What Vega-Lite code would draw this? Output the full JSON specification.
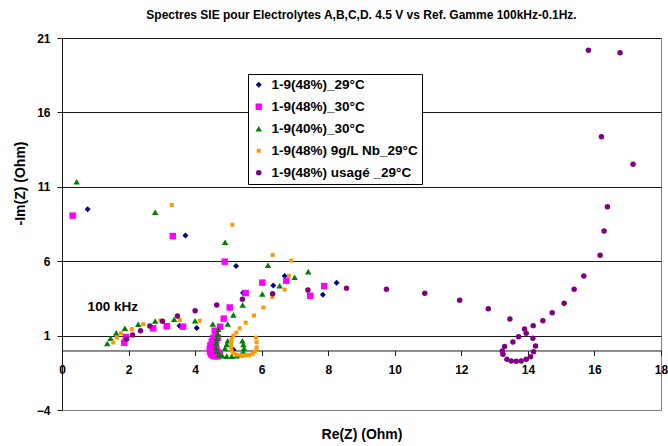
{
  "$schema": "https://vega.github.io/schema/vega-lite/v6.json",
  "width": 599,
  "height": 372,
  "autosize": "none",
  "padding": {"left": 62, "top": 38, "right": 7, "bottom": 36},
  "background": "white",
  "config": {
    "font": "Liberation Sans",
    "view": {"stroke": "#808080", "strokeWidth": 1}
  },
  "title": {
    "text": "Spectres SIE pour Electrolytes A,B,C,D. 4.5 V vs Ref. Gamme 100kHz-0.1Hz.",
    "fontSize": 12,
    "fontWeight": "bold",
    "color": "black",
    "anchor": "middle",
    "offset": 10
  },
  "datasets": {
    "pts": [
      {"series": "1-9(48%)_29°C", "re": 0.77, "im": 9.49},
      {"series": "1-9(48%)_29°C", "re": 3.71, "im": 7.72},
      {"series": "1-9(48%)_29°C", "re": 5.23, "im": 5.68},
      {"series": "1-9(48%)_29°C", "re": 6.69, "im": 5.01},
      {"series": "1-9(48%)_29°C", "re": 6.35, "im": 4.37},
      {"series": "1-9(48%)_29°C", "re": 8.25, "im": 4.56},
      {"series": "1-9(48%)_29°C", "re": 7.84, "im": 3.75},
      {"series": "1-9(48%)_29°C", "re": 5.44, "im": 3.88},
      {"series": "1-9(48%)_29°C", "re": 4.05, "im": 1.51},
      {"series": "1-9(48%)_29°C", "re": 3.53, "im": 1.67},
      {"series": "1-9(48%)_29°C", "re": 3.13, "im": 1.6},
      {"series": "1-9(48%)_29°C", "re": 4.55, "im": 0.7},
      {"series": "1-9(48%)_29°C", "re": 4.5, "im": 0.2},
      {"series": "1-9(48%)_29°C", "re": 4.6, "im": -0.25},
      {"series": "1-9(48%)_29°C", "re": 4.75, "im": -0.15},
      {"series": "1-9(48%)_29°C", "re": 5.15, "im": 0.05},
      {"series": "1-9(48%)_30°C", "re": 0.32, "im": 9.06},
      {"series": "1-9(48%)_30°C", "re": 3.33, "im": 7.69},
      {"series": "1-9(48%)_30°C", "re": 4.89, "im": 5.97},
      {"series": "1-9(48%)_30°C", "re": 6.02, "im": 4.56},
      {"series": "1-9(48%)_30°C", "re": 6.74, "im": 4.69},
      {"series": "1-9(48%)_30°C", "re": 5.52, "im": 3.86},
      {"series": "1-9(48%)_30°C", "re": 7.88, "im": 4.33},
      {"series": "1-9(48%)_30°C", "re": 7.46, "im": 3.68},
      {"series": "1-9(48%)_30°C", "re": 5.04, "im": 2.89},
      {"series": "1-9(48%)_30°C", "re": 4.86, "im": 2.14},
      {"series": "1-9(48%)_30°C", "re": 4.75, "im": 1.6},
      {"series": "1-9(48%)_30°C", "re": 4.59, "im": 1.33},
      {"series": "1-9(48%)_30°C", "re": 3.64, "im": 1.6},
      {"series": "1-9(48%)_30°C", "re": 3.15, "im": 1.63},
      {"series": "1-9(48%)_30°C", "re": 2.74, "im": 1.49},
      {"series": "1-9(48%)_30°C", "re": 1.92, "im": 0.9},
      {"series": "1-9(48%)_30°C", "re": 1.87, "im": 0.52},
      {"series": "1-9(48%)_30°C", "re": 4.62, "im": 1.1},
      {"series": "1-9(48%)_30°C", "re": 4.55, "im": 0.85},
      {"series": "1-9(48%)_30°C", "re": 4.5, "im": 0.6},
      {"series": "1-9(48%)_30°C", "re": 4.46, "im": 0.35},
      {"series": "1-9(48%)_30°C", "re": 4.44, "im": 0.1},
      {"series": "1-9(48%)_30°C", "re": 4.45, "im": -0.1},
      {"series": "1-9(48%)_30°C", "re": 4.48, "im": -0.25},
      {"series": "1-9(48%)_30°C", "re": 4.54, "im": -0.35},
      {"series": "1-9(48%)_30°C", "re": 4.62, "im": -0.4},
      {"series": "1-9(48%)_30°C", "re": 4.69, "im": -0.38},
      {"series": "1-9(48%)_30°C", "re": 4.73, "im": -0.28},
      {"series": "1-9(48%)_30°C", "re": 4.68, "im": -0.1},
      {"series": "1-9(48%)_30°C", "re": 4.64, "im": 0.12},
      {"series": "1-9(48%)_30°C", "re": 4.62, "im": 0.38},
      {"series": "1-9(48%)_30°C", "re": 4.63, "im": 0.62},
      {"series": "1-9(48%)_30°C", "re": 4.68, "im": 0.86},
      {"series": "1-9(40%)_30°C", "re": 0.44, "im": 11.34},
      {"series": "1-9(40%)_30°C", "re": 2.8, "im": 9.29},
      {"series": "1-9(40%)_30°C", "re": 4.9, "im": 7.27},
      {"series": "1-9(40%)_30°C", "re": 6.19, "im": 5.73},
      {"series": "1-9(40%)_30°C", "re": 7.4, "im": 5.3},
      {"series": "1-9(40%)_30°C", "re": 6.99, "im": 4.92},
      {"series": "1-9(40%)_30°C", "re": 6.54, "im": 4.35},
      {"series": "1-9(40%)_30°C", "re": 6.02, "im": 3.8},
      {"series": "1-9(40%)_30°C", "re": 5.43, "im": 3.06},
      {"series": "1-9(40%)_30°C", "re": 5.15, "im": 2.39},
      {"series": "1-9(40%)_30°C", "re": 4.98, "im": 1.78},
      {"series": "1-9(40%)_30°C", "re": 4.7, "im": 1.42},
      {"series": "1-9(40%)_30°C", "re": 4.53, "im": 1.78},
      {"series": "1-9(40%)_30°C", "re": 4.0, "im": 2.0},
      {"series": "1-9(40%)_30°C", "re": 3.37, "im": 2.1},
      {"series": "1-9(40%)_30°C", "re": 2.8, "im": 1.98},
      {"series": "1-9(40%)_30°C", "re": 2.29, "im": 1.76},
      {"series": "1-9(40%)_30°C", "re": 1.89, "im": 1.49},
      {"series": "1-9(40%)_30°C", "re": 1.63, "im": 1.18},
      {"series": "1-9(40%)_30°C", "re": 1.46, "im": 0.82},
      {"series": "1-9(40%)_30°C", "re": 1.36, "im": 0.47},
      {"series": "1-9(40%)_30°C", "re": 4.68, "im": 1.1},
      {"series": "1-9(40%)_30°C", "re": 4.65, "im": 0.8},
      {"series": "1-9(40%)_30°C", "re": 4.63, "im": 0.5},
      {"series": "1-9(40%)_30°C", "re": 4.63, "im": 0.2},
      {"series": "1-9(40%)_30°C", "re": 4.66, "im": -0.05},
      {"series": "1-9(40%)_30°C", "re": 4.72, "im": -0.25},
      {"series": "1-9(40%)_30°C", "re": 4.82, "im": -0.35},
      {"series": "1-9(40%)_30°C", "re": 4.95, "im": -0.38},
      {"series": "1-9(40%)_30°C", "re": 5.1, "im": -0.38},
      {"series": "1-9(40%)_30°C", "re": 5.25, "im": -0.35},
      {"series": "1-9(40%)_30°C", "re": 5.38, "im": -0.28},
      {"series": "1-9(40%)_30°C", "re": 5.45, "im": -0.1},
      {"series": "1-9(40%)_30°C", "re": 5.47, "im": 0.15},
      {"series": "1-9(40%)_30°C", "re": 5.45, "im": 0.4},
      {"series": "1-9(40%)_30°C", "re": 5.42, "im": 0.65},
      {"series": "1-9(40%)_30°C", "re": 4.98, "im": 0.65},
      {"series": "1-9(40%)_30°C", "re": 4.95, "im": 0.4},
      {"series": "1-9(40%)_30°C", "re": 4.9, "im": 0.15},
      {"series": "1-9(48%) 9g/L Nb_29°C", "re": 3.3, "im": 9.78},
      {"series": "1-9(48%) 9g/L Nb_29°C", "re": 5.12, "im": 8.45},
      {"series": "1-9(48%) 9g/L Nb_29°C", "re": 6.33, "im": 6.42},
      {"series": "1-9(48%) 9g/L Nb_29°C", "re": 6.89, "im": 6.04},
      {"series": "1-9(48%) 9g/L Nb_29°C", "re": 6.82, "im": 5.02},
      {"series": "1-9(48%) 9g/L Nb_29°C", "re": 6.69, "im": 4.09},
      {"series": "1-9(48%) 9g/L Nb_29°C", "re": 6.32, "im": 3.6},
      {"series": "1-9(48%) 9g/L Nb_29°C", "re": 6.05, "im": 2.89},
      {"series": "1-9(48%) 9g/L Nb_29°C", "re": 5.77, "im": 2.35},
      {"series": "1-9(48%) 9g/L Nb_29°C", "re": 5.52, "im": 1.87},
      {"series": "1-9(48%) 9g/L Nb_29°C", "re": 5.34, "im": 1.49},
      {"series": "1-9(48%) 9g/L Nb_29°C", "re": 5.24, "im": 1.2},
      {"series": "1-9(48%) 9g/L Nb_29°C", "re": 4.14, "im": 2.0},
      {"series": "1-9(48%) 9g/L Nb_29°C", "re": 3.54, "im": 2.05},
      {"series": "1-9(48%) 9g/L Nb_29°C", "re": 2.96, "im": 2.02},
      {"series": "1-9(48%) 9g/L Nb_29°C", "re": 2.44, "im": 1.76},
      {"series": "1-9(48%) 9g/L Nb_29°C", "re": 2.1, "im": 1.44},
      {"series": "1-9(48%) 9g/L Nb_29°C", "re": 1.77, "im": 1.16},
      {"series": "1-9(48%) 9g/L Nb_29°C", "re": 1.65, "im": 0.87},
      {"series": "1-9(48%) 9g/L Nb_29°C", "re": 1.54, "im": 0.54},
      {"series": "1-9(48%) 9g/L Nb_29°C", "re": 5.15, "im": 1.0},
      {"series": "1-9(48%) 9g/L Nb_29°C", "re": 5.1, "im": 0.75},
      {"series": "1-9(48%) 9g/L Nb_29°C", "re": 5.08, "im": 0.5},
      {"series": "1-9(48%) 9g/L Nb_29°C", "re": 5.08, "im": 0.25},
      {"series": "1-9(48%) 9g/L Nb_29°C", "re": 5.1, "im": 0.0},
      {"series": "1-9(48%) 9g/L Nb_29°C", "re": 5.15, "im": -0.18},
      {"series": "1-9(48%) 9g/L Nb_29°C", "re": 5.25, "im": -0.28},
      {"series": "1-9(48%) 9g/L Nb_29°C", "re": 5.38, "im": -0.32},
      {"series": "1-9(48%) 9g/L Nb_29°C", "re": 5.5, "im": -0.33},
      {"series": "1-9(48%) 9g/L Nb_29°C", "re": 5.62, "im": -0.3},
      {"series": "1-9(48%) 9g/L Nb_29°C", "re": 5.73, "im": -0.22},
      {"series": "1-9(48%) 9g/L Nb_29°C", "re": 5.8, "im": -0.05},
      {"series": "1-9(48%) 9g/L Nb_29°C", "re": 5.85, "im": 0.2},
      {"series": "1-9(48%) 9g/L Nb_29°C", "re": 5.85, "im": 0.55},
      {"series": "1-9(48%) 9g/L Nb_29°C", "re": 5.83, "im": 0.86},
      {"series": "1-9(48%) usagé _29°C", "re": 1.94, "im": 0.77},
      {"series": "1-9(48%) usagé _29°C", "re": 2.12, "im": 1.04},
      {"series": "1-9(48%) usagé _29°C", "re": 2.36, "im": 1.32},
      {"series": "1-9(48%) usagé _29°C", "re": 2.64, "im": 1.65},
      {"series": "1-9(48%) usagé _29°C", "re": 3.02, "im": 1.96},
      {"series": "1-9(48%) usagé _29°C", "re": 3.47, "im": 2.32},
      {"series": "1-9(48%) usagé _29°C", "re": 4.0, "im": 2.67},
      {"series": "1-9(48%) usagé _29°C", "re": 4.65, "im": 3.06},
      {"series": "1-9(48%) usagé _29°C", "re": 5.42, "im": 3.45},
      {"series": "1-9(48%) usagé _29°C", "re": 6.33, "im": 3.81},
      {"series": "1-9(48%) usagé _29°C", "re": 7.39, "im": 4.07},
      {"series": "1-9(48%) usagé _29°C", "re": 8.55, "im": 4.19},
      {"series": "1-9(48%) usagé _29°C", "re": 9.75, "im": 4.11},
      {"series": "1-9(48%) usagé _29°C", "re": 10.9, "im": 3.84},
      {"series": "1-9(48%) usagé _29°C", "re": 11.95, "im": 3.37},
      {"series": "1-9(48%) usagé _29°C", "re": 12.81, "im": 2.8},
      {"series": "1-9(48%) usagé _29°C", "re": 13.46, "im": 2.12},
      {"series": "1-9(48%) usagé _29°C", "re": 13.9, "im": 1.44},
      {"series": "1-9(48%) usagé _29°C", "re": 13.95, "im": 1.16},
      {"series": "1-9(48%) usagé _29°C", "re": 13.72, "im": 0.93},
      {"series": "1-9(48%) usagé _29°C", "re": 13.55, "im": 0.57},
      {"series": "1-9(48%) usagé _29°C", "re": 13.3, "im": 0.26},
      {"series": "1-9(48%) usagé _29°C", "re": 13.23, "im": -0.03},
      {"series": "1-9(48%) usagé _29°C", "re": 13.25, "im": -0.26},
      {"series": "1-9(48%) usagé _29°C", "re": 13.37, "im": -0.59},
      {"series": "1-9(48%) usagé _29°C", "re": 13.5, "im": -0.71},
      {"series": "1-9(48%) usagé _29°C", "re": 13.65, "im": -0.73},
      {"series": "1-9(48%) usagé _29°C", "re": 13.8, "im": -0.71},
      {"series": "1-9(48%) usagé _29°C", "re": 13.95, "im": -0.59},
      {"series": "1-9(48%) usagé _29°C", "re": 14.08, "im": -0.42},
      {"series": "1-9(48%) usagé _29°C", "re": 14.17, "im": -0.08},
      {"series": "1-9(48%) usagé _29°C", "re": 14.23, "im": 0.3},
      {"series": "1-9(48%) usagé _29°C", "re": 14.15, "im": 0.82},
      {"series": "1-9(48%) usagé _29°C", "re": 14.16, "im": 1.67},
      {"series": "1-9(48%) usagé _29°C", "re": 14.45, "im": 2.0},
      {"series": "1-9(48%) usagé _29°C", "re": 14.73, "im": 2.54},
      {"series": "1-9(48%) usagé _29°C", "re": 15.09, "im": 3.17},
      {"series": "1-9(48%) usagé _29°C", "re": 15.39, "im": 4.11},
      {"series": "1-9(48%) usagé _29°C", "re": 15.68, "im": 5.01},
      {"series": "1-9(48%) usagé _29°C", "re": 16.17, "im": 6.4},
      {"series": "1-9(48%) usagé _29°C", "re": 16.29, "im": 8.03},
      {"series": "1-9(48%) usagé _29°C", "re": 16.39, "im": 9.66},
      {"series": "1-9(48%) usagé _29°C", "re": 16.21, "im": 14.37},
      {"series": "1-9(48%) usagé _29°C", "re": 17.16, "im": 12.51},
      {"series": "1-9(48%) usagé _29°C", "re": 15.82, "im": 20.17},
      {"series": "1-9(48%) usagé _29°C", "re": 16.77, "im": 20.01}
    ],
    "notes": [
      {"re": 0.77, "im": 2.92, "label": "100 kHz"}
    ]
  },
  "layer": [
    {
      "data": {"name": "pts"},
      "mark": {"type": "point", "filled": true, "opacity": 1},
      "encoding": {
        "x": {
          "field": "re", "type": "quantitative",
          "scale": {"domain": [0, 18], "nice": false, "zero": false},
          "axis": {
            "title": "Re(Z) (Ohm)",
            "values": [0, 2, 4, 6, 8, 10, 12, 14, 16, 18],
            "offset": -59.52,
            "grid": false,
            "domainColor": "#1a1a1a",
            "tickColor": "#1a1a1a",
            "tickSize": 5,
            "labelPadding": 9,
            "labelFontSize": 12,
            "labelFontWeight": "bold",
            "labelColor": "black",
            "labelFlush": false,
            "titleFontSize": 14,
            "titleFontWeight": "bold",
            "titleColor": "black",
            "titlePadding": 52
          }
        },
        "y": {
          "field": "im", "type": "quantitative",
          "scale": {"domain": [-4, 21], "nice": false, "zero": false},
          "axis": {
            "title": "-Im(Z) (Ohm)",
            "values": [-4, 1, 6, 11, 16, 21],
            "grid": true,
            "gridColor": {"condition": {"test": "datum.value === -4", "value": "#808080"}, "value": "#1a1a1a"},
            "gridWidth": 1,
            "domainColor": "#1a1a1a",
            "tickColor": "#1a1a1a",
            "tickSize": 5,
            "labelPadding": 7,
            "labelFontSize": 12,
            "labelFontWeight": "bold",
            "labelColor": "black",
            "labelFlush": false,
            "titleFontSize": 14,
            "titleFontWeight": "bold",
            "titleColor": "black",
            "titlePadding": 9,
            "titleY": 145
          }
        },
        "color": {
          "field": "series", "type": "nominal",
          "scale": {
            "domain": ["1-9(48%)_29°C", "1-9(48%)_30°C", "1-9(40%)_30°C", "1-9(48%) 9g/L Nb_29°C", "1-9(48%) usagé _29°C"],
            "range": ["#000080", "#ff00ff", "#008000", "#ff9900", "#800080"]
          },
          "legend": {
            "title": null,
            "orient": "none",
            "legendX": 186,
            "legendY": 36,
            "padding": 4,
            "rowPadding": 7,
            "labelOffset": 6,
            "labelFontSize": 13.5,
            "labelFontWeight": "bold",
            "labelColor": "black",
            "strokeColor": "black",
            "fillColor": "white",
            "labelLimit": 300
          }
        },
        "shape": {
          "field": "series", "type": "nominal",
          "scale": {
            "domain": ["1-9(48%)_29°C", "1-9(48%)_30°C", "1-9(40%)_30°C", "1-9(48%) 9g/L Nb_29°C", "1-9(48%) usagé _29°C"],
            "range": ["diamond", "square", "triangle-up", "square", "circle"]
          },
          "legend": {
            "title": null,
            "orient": "none",
            "legendX": 186,
            "legendY": 36,
            "padding": 4,
            "rowPadding": 7,
            "labelOffset": 6,
            "labelFontSize": 13.5,
            "labelFontWeight": "bold",
            "labelColor": "black",
            "strokeColor": "black",
            "fillColor": "white",
            "labelLimit": 300
          }
        },
        "size": {
          "field": "series", "type": "nominal",
          "scale": {
            "type": "ordinal",
            "domain": ["1-9(48%)_29°C", "1-9(48%)_30°C", "1-9(40%)_30°C", "1-9(48%) 9g/L Nb_29°C", "1-9(48%) usagé _29°C"],
            "range": [36, 42, 42, 16, 30]
          },
          "legend": {
            "title": null,
            "orient": "none",
            "legendX": 186,
            "legendY": 36,
            "padding": 4,
            "rowPadding": 7,
            "labelOffset": 6,
            "labelFontSize": 13.5,
            "labelFontWeight": "bold",
            "labelColor": "black",
            "strokeColor": "black",
            "fillColor": "white",
            "labelLimit": 300
          }
        }
      }
    },
    {
      "data": {"name": "notes"},
      "mark": {"type": "text", "align": "left", "baseline": "middle", "fontSize": 13.5, "fontWeight": "bold", "color": "black"},
      "encoding": {
        "x": {"field": "re", "type": "quantitative"},
        "y": {"field": "im", "type": "quantitative"},
        "text": {"field": "label"}
      }
    }
  ]
}
